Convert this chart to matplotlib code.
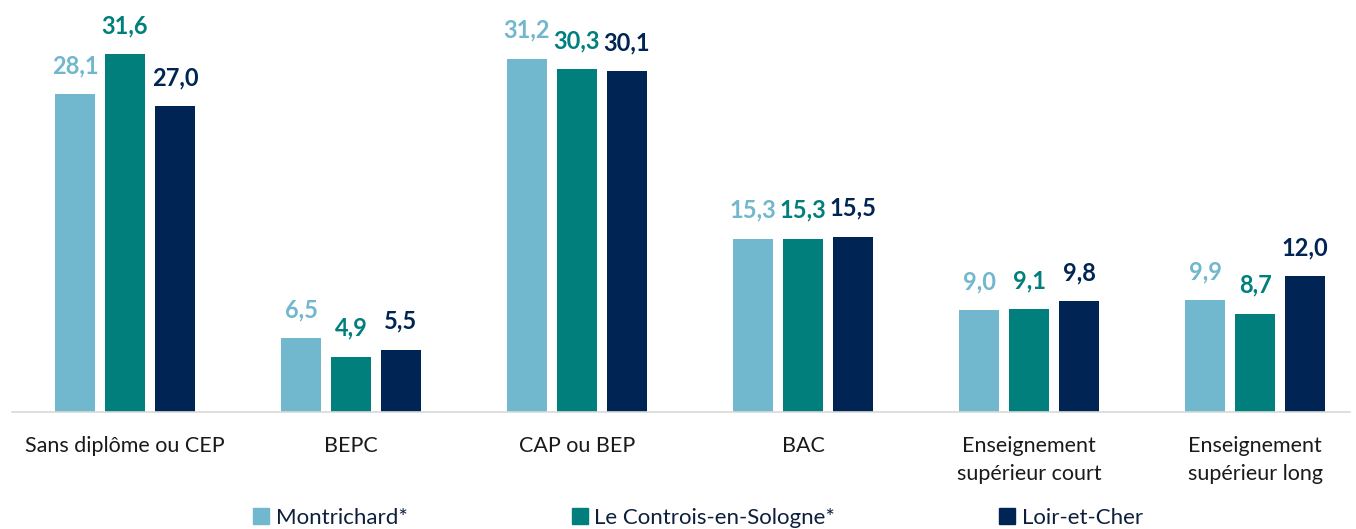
#!/usr/bin/env python3
# coding=utf-8

import matplotlib
matplotlib.use('Agg')
import numpy as np
import matplotlib.pyplot as plt
from matplotlib.lines import Line2D

plt.rcParams['font.family'] = ['Lato', 'DejaVu Sans']

categories = ['Sans diplôme ou CEP', 'BEPC', 'CAP ou BEP', 'BAC',
              'Enseignement\nsupérieur court', 'Enseignement\nsupérieur long']
series_names = ['Montrichard*', 'Le Controis-en-Sologne*', 'Loir-et-Cher']
montrichard = [28.1, 6.5, 31.2, 15.3, 9.0, 9.9]
controis = [31.6, 4.9, 30.3, 15.3, 9.1, 8.7]
loir_et_cher = [27.0, 5.5, 30.1, 15.5, 9.8, 12.0]
colors = ['#71B7CD', '#007F7D', '#002554']

fig = plt.figure(figsize=(13.56, 5.29), dpi=100)
ax = fig.add_axes([12 / 1356, (529 - 412) / 529, 1338 / 1356, 412 / 529])

x = np.arange(len(categories))
width = 40 / 226
step = 50 / 226

for i, (vals, col) in enumerate(zip([montrichard, controis, loir_et_cher], colors)):
    pos = x + (i - 1) * step
    ax.bar(pos, vals, width=width, color=col, zorder=2)
    for p, v in zip(pos, vals):
        ax.text(p, v + 1.5, ('%.1f' % v).replace('.', ','), ha='center', va='bottom',
                color=col, fontsize=17, fontweight='bold')

ax.set_xlim(-0.5, -0.5 + 1338 / 226)
ax.set_ylim(0, 36.4)
ax.set_xticks(x)
ax.set_xticklabels(categories, fontsize=15.5, color='#1a1a1a', linespacing=1.55)
ax.tick_params(axis='x', length=0, pad=17)
ax.set_yticks([])
for s in ['top', 'right', 'left']:
    ax.spines[s].set_visible(False)
ax.spines['bottom'].set_color('#D9D9D9')
ax.spines['bottom'].set_linewidth(1.2)

handles = [Line2D([], [], marker='s', linestyle='none', markersize=12, color=c) for c in colors]
fig.legend(handles, series_names, loc='lower center', bbox_to_anchor=(0.515, -0.035), ncol=3,
           frameon=False, fontsize=16, handlelength=0.7, handletextpad=0.3,
           columnspacing=7.4, labelcolor='#0d1f3c')

fig.savefig('out.png', dpi=100)
